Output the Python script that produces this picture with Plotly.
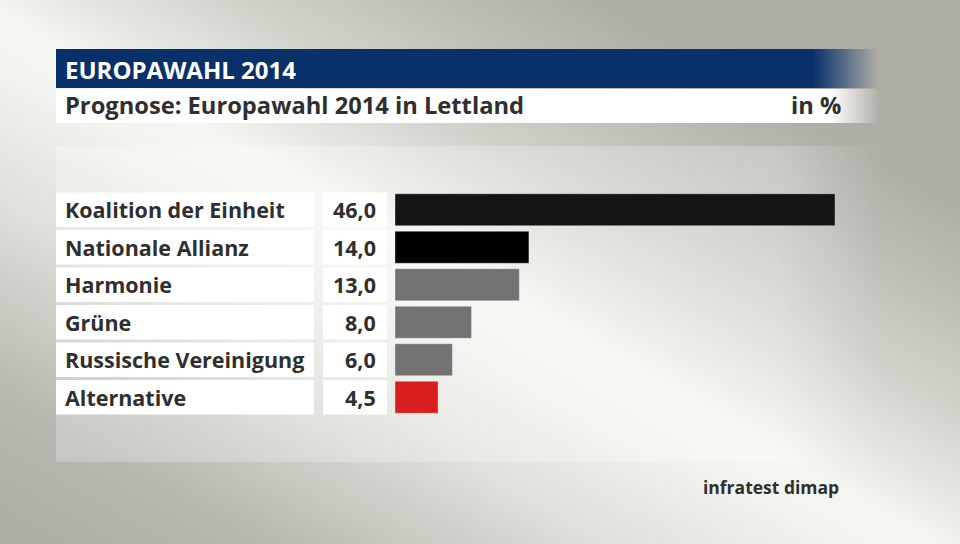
import base64
import plotly.graph_objects as go

# ---- data ----
parties = ["Koalition der Einheit", "Nationale Allianz", "Harmonie", "Grüne",
           "Russische Vereinigung", "Alternative"]
values = [46.0, 14.0, 13.0, 8.0, 6.0, 4.5]
value_labels = ["46,0", "14,0", "13,0", "8,0", "6,0", "4,5"]
bar_colors = ["#141414", "#000000", "#727274", "#727274", "#727274", "#d81e1e"]

header = "EUROPAWAHL 2014"
subtitle = "Prognose: Europawahl 2014 in Lettland"
unit = "in %"
source = "infratest dimap"

# ---- layout geometry (pixels) ----
W, H = 960, 544
L, R, T, B = 395, 835, 191, 416


def px(x):
    return (x - L) / (R - L)


def py(y):
    return (B - y) / (B - T)


# background: light diagonal band (top-left -> bottom-right), grey corners
svg = f'''<svg xmlns="http://www.w3.org/2000/svg" width="{W}" height="{H}" viewBox="0 0 {W} {H}" preserveAspectRatio="none">
<defs>
<linearGradient id="bg" gradientUnits="userSpaceOnUse" x1="-222" y1="391.5" x2="172.6" y2="-304.5">
<stop offset="0" stop-color="#afafa7"/>
<stop offset="0.125" stop-color="#b6b6ae"/>
<stop offset="0.2375" stop-color="#cbcbc4"/>
<stop offset="0.344" stop-color="#e0e0da"/>
<stop offset="0.4875" stop-color="#f2f3ee"/>
<stop offset="0.55" stop-color="#f5f6f1"/>
<stop offset="0.6" stop-color="#e9e9e3"/>
<stop offset="0.706" stop-color="#d2d2cb"/>
<stop offset="0.8125" stop-color="#c0c0b9"/>
<stop offset="0.925" stop-color="#afafa7"/>
<stop offset="1" stop-color="#aeada5"/>
</linearGradient>
<linearGradient id="panel" gradientUnits="userSpaceOnUse" x1="780" y1="0" x2="880" y2="0">
<stop offset="0" stop-color="#ffffff" stop-opacity="0.25"/>
<stop offset="1" stop-color="#ffffff" stop-opacity="0"/>
</linearGradient>
<linearGradient id="blue" gradientUnits="userSpaceOnUse" x1="813" y1="0" x2="878" y2="0">
<stop offset="0" stop-color="#08306b" stop-opacity="1"/>
<stop offset="1" stop-color="#08306b" stop-opacity="0"/>
</linearGradient>
<linearGradient id="white" gradientUnits="userSpaceOnUse" x1="830" y1="0" x2="880" y2="0">
<stop offset="0" stop-color="#ffffff" stop-opacity="1"/>
<stop offset="1" stop-color="#ffffff" stop-opacity="0"/>
</linearGradient>
</defs>
<rect x="0" y="0" width="{W}" height="{H}" fill="url(#bg)"/>
<rect x="56" y="146" width="824" height="316" fill="url(#panel)"/>
<rect x="56" y="49" width="824" height="39" fill="url(#blue)"/>
<rect x="56" y="89" width="824" height="34" fill="url(#white)"/>
</svg>'''
svg_uri = "data:image/svg+xml;base64," + base64.b64encode(svg.encode()).decode()

fig = go.Figure()
fig.add_trace(go.Bar(
    x=values, y=parties, orientation="h",
    marker=dict(color=bar_colors, line=dict(color="rgba(255,255,255,0.35)", width=1)),
    hoverinfo="skip", showlegend=False,
))

FONT = "Open Sans"
TXT = "#2f2f2f"

shapes = []
annotations = []
for i, (p, vl) in enumerate(zip(parties, value_labels)):
    shapes.append(dict(type="rect", xref="paper", yref="y",
                       x0=px(56), x1=px(314), y0=i - 0.46, y1=i + 0.46,
                       fillcolor="white", line=dict(width=0), layer="below"))
    shapes.append(dict(type="rect", xref="paper", yref="y",
                       x0=px(323), x1=px(387), y0=i - 0.46, y1=i + 0.46,
                       fillcolor="white", line=dict(width=0), layer="below"))
    annotations.append(dict(xref="paper", yref="y", x=px(63), y=i, text=p,
                            xanchor="left", yanchor="middle", showarrow=False,
                            font=dict(family=FONT, size=21.5, color=TXT, weight="bold")))
    annotations.append(dict(xref="paper", yref="y", x=px(378), y=i, text=vl,
                            xanchor="right", yanchor="middle", showarrow=False,
                            font=dict(family=FONT, size=21.5, color=TXT, weight="bold")))

annotations += [
    dict(xref="paper", yref="paper", x=px(63), y=py(69), text=header,
         xanchor="left", yanchor="middle", showarrow=False,
         font=dict(family=FONT, size=24, color="white", weight="bold")),
    dict(xref="paper", yref="paper", x=px(63), y=py(105), text=subtitle,
         xanchor="left", yanchor="middle", showarrow=False,
         font=dict(family=FONT, size=23.7, color=TXT, weight="bold")),
    dict(xref="paper", yref="paper", x=px(843), y=py(105), text=unit,
         xanchor="right", yanchor="middle", showarrow=False,
         font=dict(family=FONT, size=23.7, color=TXT, weight="bold")),
    dict(xref="paper", yref="paper", x=px(841), y=py(487), text=source,
         xanchor="right", yanchor="middle", showarrow=False,
         font=dict(family=FONT, size=17.5, color=TXT, weight="bold")),
]

fig.update_layout(
    width=W, height=H,
    margin=dict(l=L, r=W - R, t=T, b=H - B, pad=0),
    paper_bgcolor="#e8e8e2", plot_bgcolor="rgba(0,0,0,0)",
    bargap=0.147,
    xaxis=dict(range=[0, 46], visible=False, fixedrange=True),
    yaxis=dict(autorange="reversed", visible=False, fixedrange=True),
    shapes=shapes, annotations=annotations,
    images=[dict(source=svg_uri, xref="paper", yref="paper",
                 x=px(0), y=py(0), sizex=W / (R - L), sizey=H / (B - T),
                 sizing="stretch", xanchor="left", yanchor="top", layer="below")],
)

fig.write_html("out.html", config={"displayModeBar": False},
               post_script="document.body.style.margin='0';document.body.style.overflow='hidden';")
